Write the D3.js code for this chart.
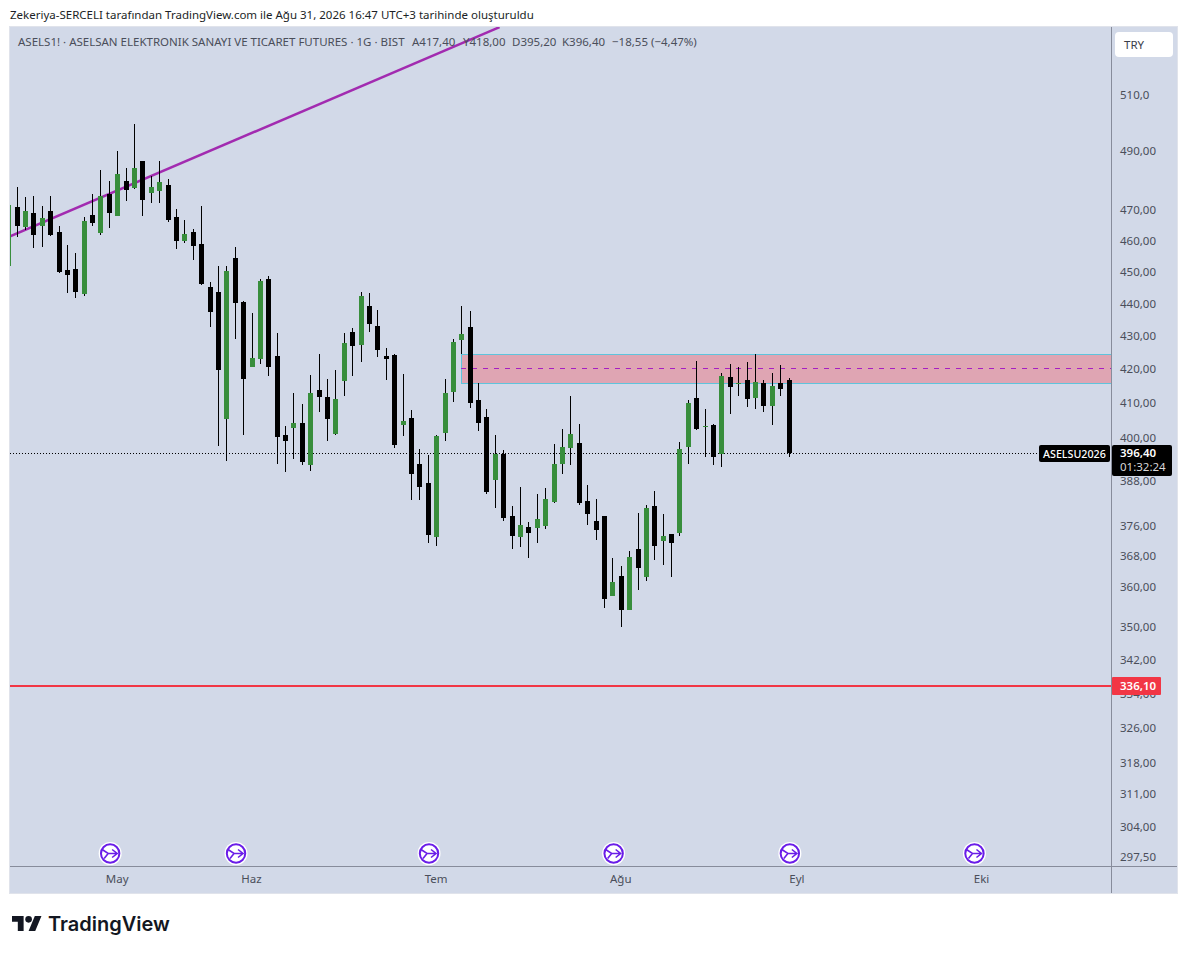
<!DOCTYPE html>
<html>
<head>
<meta charset="utf-8">
<script src="https://cdn.jsdelivr.net/npm/d3@7"></script>
<style>
  html, body { margin: 0; padding: 0; background: #fff; }
  svg { display: block; }
  text { font-family: "Noto Sans", "Open Sans", sans-serif; }
</style>
</head>
<body>
<div id="chart"></div>
<script>
// session candles, first one is cut off by the left edge of the pane
let opens  = [452.3,471.7,465.1,469.7,465.4,470.4,463.4,451.2,451.5,443.6,469.0,463.1,476.0,468.7,480.5,478.0,487.3,476.4,477.0,479.1,468.4,460.5,463.4,459.5,445.8,444.2,406.0,455.0,441.1,421.2,423.6,448.3,424.5,401.5,403.5,404.9,393.0,414.4,412.4,401.7,417.1,431.8,427.9,439.8,433.7,424.5,424.8,404.3,406.3,393.3,388.1,373.6,402.0,413.9,429.4,433.4,411.5,406.6,388.9,396.1,379.2,373.6,376.3,376.0,376.5,383.0,393.3,397.8,399.2,383.2,377.8,379.2,358.3,363.4,354.8,370.4,363.2,381.9,372.5,374.4,374.7,398.1,412.1,403.8,404.3,396.1,418.3,416.2,417.4,412.1,416.5,409.8,416.5,417.4];
let closes = [472.3,465.4,470.4,462.4,468.1,462.4,450.5,449.6,444.2,467.1,466.4,475.4,469.7,482.8,477.4,484.9,474.0,478.4,480.1,467.4,460.5,462.8,458.9,446.7,438.0,420.3,450.8,440.8,417.7,423.9,447.7,421.2,400.9,399.8,404.9,393.8,413.6,412.4,406.0,411.8,428.5,427.6,443.0,434.3,426.3,423.6,398.7,405.5,390.5,387.0,374.1,401.2,413.6,428.8,431.2,410.6,404.9,385.7,396.1,378.6,373.9,376.8,374.7,378.4,383.8,393.3,398.1,401.7,382.7,379.7,375.4,357.6,361.9,354.8,368.3,365.5,381.3,371.2,373.9,372.0,397.5,410.6,403.2,404.0,395.2,418.6,415.3,416.5,411.8,416.8,409.8,415.6,414.7,396.4];
let highs  = [472.3,478.4,475.0,475.4,472.0,475.4,465.4,459.2,456.6,468.4,476.0,484.0,480.5,490.7,484.9,500.2,487.3,482.2,487.3,481.1,471.0,467.4,464.4,472.0,447.4,452.4,452.4,458.6,441.4,437.7,448.3,449.3,431.5,404.0,413.6,410.4,418.9,425.1,417.7,420.3,431.5,433.0,444.2,443.9,438.6,426.9,425.1,419.2,408.6,397.5,395.8,401.5,417.7,429.7,439.8,438.3,416.5,408.9,401.5,397.2,381.9,387.0,377.6,385.1,386.7,399.0,403.2,412.7,404.6,387.5,383.8,379.2,368.0,366.0,370.0,380.0,382.2,386.0,379.7,374.4,399.5,411.5,423.0,408.9,404.6,419.5,422.1,421.2,422.7,425.1,417.4,419.5,421.8,418.0];
let lows   = [452.3,461.8,464.1,458.2,458.6,462.1,450.1,443.9,442.3,443.0,465.4,462.4,464.8,468.7,473.7,477.7,468.7,473.0,473.0,466.7,457.9,459.8,454.3,446.4,433.4,398.4,394.1,429.7,401.5,421.2,422.1,418.6,393.3,391.1,394.7,393.0,391.4,408.0,399.8,401.5,412.7,418.6,422.7,431.8,424.2,417.4,397.8,401.2,383.5,383.5,372.0,371.2,399.8,410.9,425.1,409.2,402.6,385.1,381.3,377.8,370.4,370.9,368.0,372.0,375.7,382.7,390.5,393.0,382.2,376.8,372.8,355.3,358.3,350.6,354.8,359.9,362.1,367.5,366.2,363.2,373.9,393.3,402.9,395.2,393.0,392.5,407.5,412.7,409.5,408.9,408.0,404.3,412.7,395.2];

// price axis labels as printed on the chart
let priceTicks  = [510,490,470,460,450,440,430,420,410,400,388,376,368,360,350,342,334,326,318,311,304,297.5];
let priceLabels = ["510,0","490,00","470,00","460,00","450,00","440,00","430,00","420,00","410,00","400,00","388,00","376,00","368,00","360,00","350,00","342,00","334,00","326,00","318,00","311,00","304,00","297,50"];

let monthIndex  = [12,28,50,72,93,115];
let monthLabels = ["May","Haz","Tem","Ağu","Eyl","Eki"];

// dividend flags along the bottom
let flagIndex = [11,26,49,71,92,114];

// drawings
let trendIndex = [-1,57.5];
let trendPrice = [461.8,535.6];
let zoneStartIndex = 53;
let zoneTop = 425.0, zoneMid = 420.9, zoneBottom = 416.4;
let lastPrice = 396.4;
let alertPrice = 336.1;

let width = 1187, height = 954;
let pane = { left: 10, right: 1111, top: 27, bottom: 866, outerRight: 1177, outerBottom: 893 };

let xScale = d3.scaleLinear().domain([0, 92]).range([17.05, 789.05]);
let yScale = d3.scaleLog().domain([297.5, 510]).range([859.1, 96.45]);

let svg = d3.select("#chart").append("svg")
    .attr("width", width)
    .attr("height", height);

svg.append("defs").append("clipPath").attr("id", "pane")
  .append("rect")
    .attr("x", pane.left).attr("y", pane.top)
    .attr("width", pane.right - pane.left)
    .attr("height", pane.bottom - pane.top);

// background and frame
svg.append("rect")
    .attr("x", pane.left - 0.5).attr("y", pane.top - 0.5)
    .attr("width", pane.outerRight - pane.left + 1)
    .attr("height", pane.outerBottom - pane.top + 1)
    .attr("fill", "#d2d9e8")
    .attr("stroke", "#e0e3eb");

let plot = svg.append("g").attr("clip-path", "url(#pane)");

// supply zone
let zoneX = Math.floor(xScale(zoneStartIndex));
plot.append("rect")
    .attr("x", zoneX + 0.5).attr("y", Math.round(yScale(zoneTop)) + 0.5)
    .attr("width", pane.right - zoneX + 5)
    .attr("height", Math.round(yScale(zoneBottom)) - Math.round(yScale(zoneTop)))
    .attr("fill", "#dfa5b3")
    .attr("stroke", "#5fc4dc");
plot.append("line")
    .attr("x1", zoneX).attr("x2", pane.right)
    .attr("y1", Math.round(yScale(zoneMid)) + 0.5).attr("y2", Math.round(yScale(zoneMid)) + 0.5)
    .attr("stroke", "#a61fc2")
    .attr("stroke-dasharray", "5,6");

// last price dots
plot.append("line")
    .attr("x1", pane.left).attr("x2", 1040)
    .attr("y1", Math.round(yScale(lastPrice)) + 0.5).attr("y2", Math.round(yScale(lastPrice)) + 0.5)
    .attr("stroke", "#000")
    .attr("stroke-dasharray", "1,2");

// alert line
plot.append("line")
    .attr("x1", pane.left).attr("x2", pane.right)
    .attr("y1", Math.floor(yScale(alertPrice))).attr("y2", Math.floor(yScale(alertPrice)))
    .attr("stroke", "#f23645")
    .attr("stroke-width", 2);

// trend line
plot.append("line")
    .attr("x1", xScale(trendIndex[0])).attr("y1", yScale(trendPrice[0]))
    .attr("x2", xScale(trendIndex[1])).attr("y2", yScale(trendPrice[1]))
    .attr("stroke", "#a22bb0")
    .attr("stroke-width", 2.5);

// candles, wicks are black on both up and down days
let candles = plot.append("g").attr("shape-rendering", "crispEdges")
  .selectAll("g")
  .data(opens.map((o, i) => ({ i: i - 1, o: o, c: closes[i], h: highs[i], l: lows[i] })))
  .enter().append("g");

candles.append("rect")
    .attr("fill", "#000")
    .attr("x", d => Math.floor(xScale(d.i)))
    .attr("width", 1)
    .attr("y", d => yScale(d.h))
    .attr("height", d => yScale(d.l) - yScale(d.h));

candles.append("rect")
    .attr("fill", d => d.c >= d.o ? "#388e3c" : "#000")
    .attr("x", d => Math.floor(xScale(d.i)) - 2)
    .attr("width", 5)
    .attr("y", d => yScale(Math.max(d.o, d.c)))
    .attr("height", d => Math.max(1, Math.abs(yScale(d.c) - yScale(d.o))));

// axes
let priceAxis = d3.axisRight(yScale)
    .tickValues(priceTicks)
    .tickSize(0)
    .tickPadding(9)
    .tickFormat(d => priceLabels[priceTicks.indexOf(d)]);

let yAxisG = svg.append("g")
    .attr("transform", "translate(" + pane.right + ",-2)")
    .call(priceAxis);
yAxisG.select(".domain").remove();
yAxisG.selectAll("text")
    .attr("fill", "#4a4e5a")
    .style("font-family", '"Noto Sans", sans-serif')
    .style("font-size", "11.5px");

let timeAxis = d3.axisBottom(xScale)
    .tickValues(monthIndex)
    .tickSize(0)
    .tickPadding(9)
    .tickFormat(d => monthLabels[monthIndex.indexOf(d)]);

let xAxisG = svg.append("g")
    .attr("transform", "translate(-1," + pane.bottom + ")")
    .call(timeAxis);
xAxisG.select(".domain").remove();
xAxisG.selectAll("text")
    .attr("fill", "#4a4e5a")
    .style("font-family", '"Noto Sans", sans-serif')
    .style("font-size", "11.5px");

// pane separators
svg.append("line")
    .attr("x1", pane.right + 0.5).attr("x2", pane.right + 0.5)
    .attr("y1", pane.top).attr("y2", pane.outerBottom)
    .attr("stroke", "#878c9b");
svg.append("line")
    .attr("x1", pane.left).attr("x2", pane.outerRight)
    .attr("y1", pane.bottom + 0.5).attr("y2", pane.bottom + 0.5)
    .attr("stroke", "#878c9b");

// dividend flags
let flags = svg.selectAll(".flag")
  .data(flagIndex)
  .enter().append("g")
    .attr("class", "flag")
    .attr("transform", d => "translate(" + (xScale(d) + 0.8) + ",853.5)");
flags.append("circle")
    .attr("r", 11.5)
    .attr("fill", "#fff");
flags.append("circle")
    .attr("r", 9.2)
    .attr("fill", "#fff")
    .attr("stroke", "#6a1de8")
    .attr("stroke-width", 2);
flags.append("path")
    .attr("d", "M-8,-4 L-2,0 L6,0 M2,-4 L7,0 L2,4 M-2,0 L-6,5")
    .attr("fill", "none")
    .attr("stroke", "#6a1de8")
    .attr("stroke-width", 1.6);

// price tags on the axis
svg.append("rect")
    .attr("x", 1112).attr("y", 677).attr("width", 49).attr("height", 18).attr("rx", 1)
    .attr("fill", "#f23645");
svg.append("text")
    .attr("x", 1120).attr("y", 690)
    .attr("fill", "#fff")
    .attr("font-size", 11.5)
    .attr("font-weight", 600)
    .text("336,10");

svg.append("rect")
    .attr("x", 1112).attr("y", 445).attr("width", 60).attr("height", 31).attr("rx", 2)
    .attr("fill", "#000");
svg.append("text")
    .attr("x", 1120).attr("y", 456.5)
    .attr("fill", "#fff")
    .attr("font-size", 11.5)
    .attr("font-weight", 600)
    .text("396,40");
svg.append("text")
    .attr("x", 1120).attr("y", 470.5)
    .attr("fill", "#d8d8d8")
    .attr("font-size", 11.5)
    .text("01:32:24");

svg.append("rect")
    .attr("x", 1039).attr("y", 445).attr("width", 71).attr("height", 17).attr("rx", 2)
    .attr("fill", "#000");
svg.append("text")
    .attr("x", 1043).attr("y", 457.5)
    .attr("fill", "#fff")
    .attr("font-size", 10.7)
    .attr("font-weight", 500)
    .text("ASELSU2026");

// currency button
svg.append("rect")
    .attr("x", 1115).attr("y", 32).attr("width", 58).attr("height", 25).attr("rx", 4)
    .attr("fill", "#fff");
svg.append("text")
    .attr("x", 1124).attr("y", 48.5)
    .attr("fill", "#3a3e4a")
    .attr("font-size", 11.5)
    .text("TRY");

// header and legend
svg.append("text")
    .attr("x", 10).attr("y", 19)
    .attr("fill", "#1c1f26")
    .attr("font-size", 11.5)
    .text("Zekeriya-SERCELI tarafından TradingView.com ile Ağu 31, 2026 16:47 UTC+3 tarihinde oluşturuldu");

svg.append("text")
    .attr("x", 18).attr("y", 46)
    .attr("fill", "#4a4e5a")
    .attr("font-size", 11.5)
    .text("ASELS1! · ASELSAN ELEKTRONIK SANAYI VE TICARET FUTURES · 1G · BIST");

let legendX = [412, 463, 512, 562, 612];
let legendText = ["A417,40", "Y418,00", "D395,20", "K396,40", "−18,55 (−4,47%)"];
svg.selectAll(".legend")
  .data(legendText)
  .enter().append("text")
    .attr("class", "legend")
    .attr("x", (d, i) => legendX[i]).attr("y", 46)
    .attr("fill", "#4a4e5a")
    .attr("font-size", 11.5)
    .text(d => d);

// logo
let logo = svg.append("g")
    .attr("transform", "translate(12,916) scale(0.83)")
    .attr("fill", "#131722");
logo.append("path").attr("d", "M14 18H7V7H0V0h14v18zM28 18h-8L27.5 0h8L28 18z");
logo.append("circle").attr("cx", 20).attr("cy", 4).attr("r", 4);

svg.append("text")
    .attr("x", 48).attr("y", 931)
    .attr("fill", "#131722")
    .style("font-family", "Inter, sans-serif")
    .attr("font-size", 20)
    .attr("font-weight", 600)
    .text("TradingView");
</script>
</body>
</html>
